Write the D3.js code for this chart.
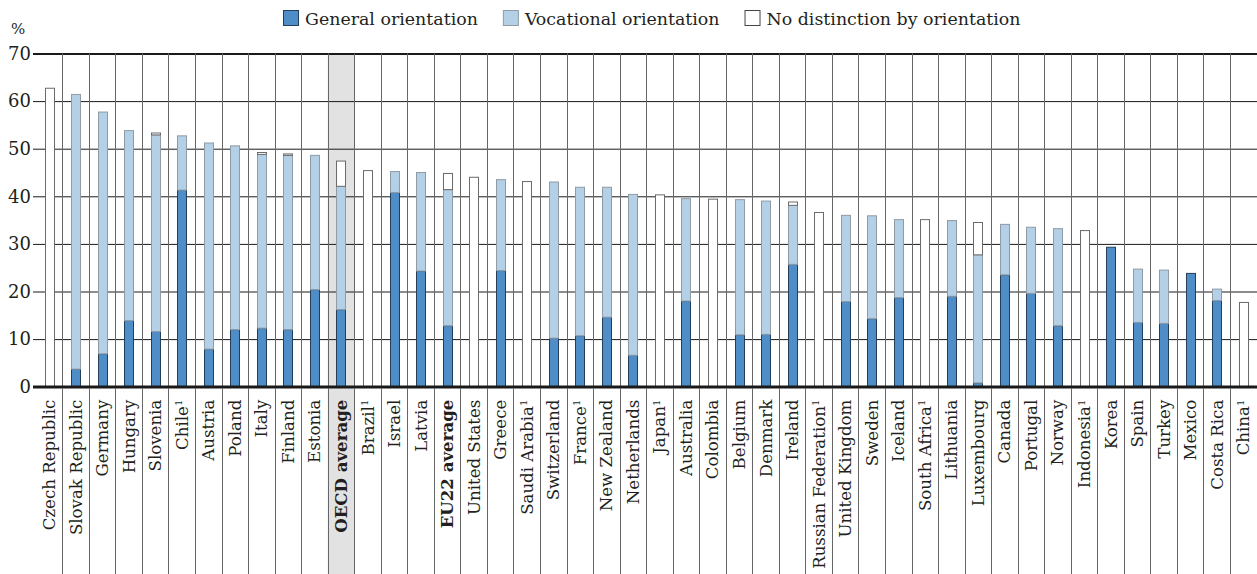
<!DOCTYPE html>
<html>
<head>
<meta charset="utf-8">
<script src="https://cdn.jsdelivr.net/npm/d3@7"></script>
<style>
body {margin:0; background:#fff;}
svg text {font-family:"DejaVu Serif", serif; fill:#231f20;}
</style>
</head>
<body>
<svg id=holder width=1257 height=574></svg>
<script>
// countries, in the order of the figure
var categories=["Czech Republic","Slovak Republic","Germany","Hungary","Slovenia","Chile","Austria","Poland","Italy","Finland","Estonia","OECD average","Brazil","Israel","Latvia","EU22 average","United States","Greece","Saudi Arabia","Switzerland","France","New Zealand","Netherlands","Japan","Australia","Colombia","Belgium","Denmark","Ireland","Russian Federation","United Kingdom","Sweden","Iceland","South Africa","Lithuania","Luxembourg","Canada","Portugal","Norway","Indonesia","Korea","Spain","Turkey","Mexico","Costa Rica","China"];
var general=[0,3.7,6.9,13.9,11.6,41.3,7.9,12.0,12.3,12.0,20.4,16.2,0,40.8,24.3,12.8,0,24.4,0,10.2,10.7,14.6,6.6,0,18.0,0,10.9,11.0,25.7,0,17.9,14.3,18.7,0,19.0,0.8,23.5,19.6,12.8,0,29.3,13.5,13.3,23.8,18.1,0];
var vocational=[0,57.7,50.8,39.9,41.3,11.4,43.3,38.6,36.5,36.6,28.2,25.9,0,4.4,20.7,28.6,0,19.1,0,32.8,31.2,27.3,33.8,0,21.5,0,28.4,28.0,12.4,0,18.1,21.6,16.4,0,15.9,26.9,10.6,13.9,20.4,0,0,11.2,11.2,0,2.4,0];
var noDistinction=[62.7,0,0,0,0.4,0,0,0,0.4,0.3,0,5.3,45.4,0,0,3.4,44.0,0,43.1,0,0,0,0,40.3,0,39.4,0,0,0.7,36.6,0,0,0,35.1,0,6.8,0,0,0,32.8,0,0,0,0,0,17.7];
var footnoted=["Chile","Brazil","Saudi Arabia","France","Japan","Russian Federation","South Africa","Indonesia","China"];
var highlighted=["OECD average"];
var boldLabels=["OECD average","EU22 average"];
var yTicks=[0,10,20,30,40,50,60,70];
var seriesNames=["General orientation","Vocational orientation","No distinction by orientation"];

var W=1257, H=574;
var plot_left=35.8, plot_right=1256.5, plot_top=53.5, plot_bottom=386.7;
var bar_width=9;

var colors={
    general:{fill:'#4e8dc6',stroke:'#243f5c'},
    vocational:{fill:'#b4d0e6',stroke:'#8f9ba5'},
    none:{fill:'#ffffff',stroke:'#6b6b6b'}
};

var svg=d3.select('#holder');

var xscale=d3.scaleBand().domain(categories).range([plot_left,plot_right]).padding(0);
var yscale=d3.scaleLinear().domain([0,70]).range([plot_bottom,plot_top]);

// shaded band for the OECD average
svg.append('g').selectAll('rect').data(highlighted).enter().append('rect')
    .attr('x',function(d) {return xscale(d);})
    .attr('y',plot_top)
    .attr('width',xscale.bandwidth())
    .attr('height',H-plot_top)
    .attr('fill','#e2e2e2');

// horizontal grid
var yaxis=d3.axisLeft(yscale).tickValues(yTicks).tickSize(-(W-33)).tickPadding(4);
var ga=svg.append('g')
    .attr('transform','translate(33,0)')
    .call(yaxis);
ga.select('.domain').remove();
ga.selectAll('.tick line')
    .attr('stroke','#1a1a1a')
    .attr('stroke-width',function(d) {return (d==0) ? 2.5 : (d==70 ? 2 : 1);});
ga.selectAll('.tick text')
    .attr('x',-2)
    .style('font-size','18px')
    .style('font-family','"DejaVu Serif", serif')
    .attr('fill','#231f20');

// vertical separators between countries
var seps=categories.slice(1);
svg.append('g').selectAll('line').data(seps).enter().append('line')
    .attr('x1',function(d) {return Math.round(xscale(d))+0.5;})
    .attr('x2',function(d) {return Math.round(xscale(d))+0.5;})
    .attr('y1',plot_top)
    .attr('y2',H)
    .attr('stroke','#666')
    .attr('stroke-width',1);

// stacked bars
var rows=categories.map(function(c,i) {
    return {name:c,general:general[i],vocational:vocational[i],none:noDistinction[i]};
});
var keys=['general','vocational','none'];
var stack=d3.stack().keys(keys)(rows);

var gb=svg.append('g');
stack.forEach(function(layer) {
    var col=colors[layer.key];
    gb.append('g').selectAll('rect').data(layer.filter(function(d) {return d[1]-d[0]>0;})).enter().append('rect')
        .attr('x',function(d) {return Math.round(xscale(d.data.name)+xscale.bandwidth()/2-bar_width/2)+0.5;})
        .attr('y',function(d) {return yscale(d[1]);})
        .attr('width',bar_width)
        .attr('height',function(d) {return yscale(d[0])-yscale(d[1]);})
        .attr('fill',col.fill)
        .attr('stroke',col.stroke)
        .attr('stroke-width',1);
});

// redraw the zero line on top of the bars
svg.append('line')
    .attr('x1',33).attr('x2',W)
    .attr('y1',yscale(0)).attr('y2',yscale(0))
    .attr('stroke','#1a1a1a').attr('stroke-width',2.5);

// country labels
var gl=svg.append('g');
categories.forEach(function(c) {
    var t=gl.append('text')
        .attr('transform','translate('+(xscale(c)+xscale.bandwidth()/2+6)+','+(plot_bottom+13)+') rotate(-90)')
        .attr('text-anchor','end')
        .style('font-size','16.6px')
        .style('font-weight',boldLabels.indexOf(c)>=0 ? 'bold' : 'normal');
    t.append('tspan').text(c);
    if (footnoted.indexOf(c)>=0) {
        t.append('tspan').attr('dy','-0.55em').style('font-size','10px').text('1');
    }
});

// % label
svg.append('text').attr('x',11).attr('y',34).style('font-size','15px').text('%');

// legend
var lg=svg.append('g');
var lx=0;
var legendFills=[colors.general,colors.vocational,colors.none];
seriesNames.forEach(function(name,i) {
    lg.append('rect')
        .attr('x',lx+0.5).attr('y',10.5)
        .attr('width',15).attr('height',15)
        .attr('fill',legendFills[i].fill)
        .attr('stroke',i==2 ? '#444' : legendFills[i].stroke);
    var tt=lg.append('text')
        .attr('x',lx+22).attr('y',25)
        .style('font-size','17.4px')
        .text(name);
    lx+=22+tt.node().getComputedTextLength()+25;
});
var lw=lx-25;
lg.attr('transform','translate('+Math.round(652-lw/2)+',0)');
</script>
</body>
</html>
